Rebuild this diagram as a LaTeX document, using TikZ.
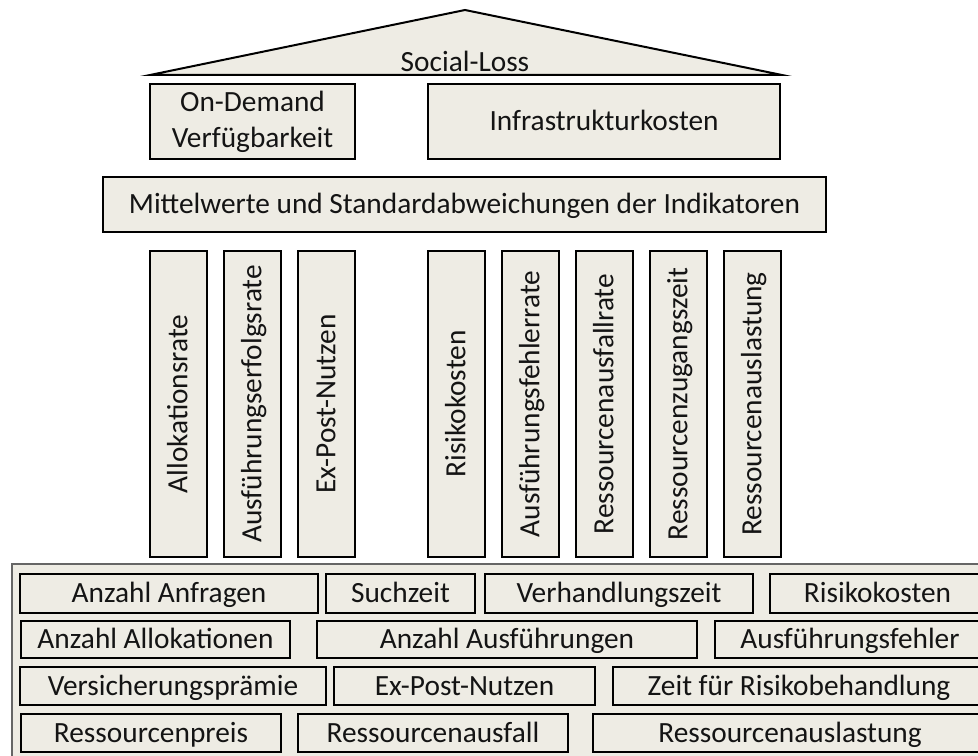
\documentclass[tikz,border=0pt]{standalone}
\usepackage{fontspec}
\setmainfont{Carlito}
\usepackage{tikz}

\definecolor{boxfill}{RGB}{238,236,228}
\definecolor{txtcol}{RGB}{20,20,20}

\begin{document}
\begin{tikzpicture}[x=0.75pt,y=0.75pt,yscale=-1,xscale=1,
  boxline/.style={draw=black,line width=1.5pt,fill=boxfill},
  lbl/.style={inner sep=0pt,text=txtcol,font=\fontsize{22pt}{27pt}\selectfont,text height=16pt,text depth=2pt},
  vlbl/.style={lbl,rotate=90}]
\useasboundingbox (0,0) rectangle (978,756);
\clip (0,0) rectangle (978,756);

%Shape: Roof
\draw [line width=1.5pt,line join=miter,fill=boxfill] (150,75) -- (465,10) -- (782,75) -- cycle ;
%Shape: Rectangle On-Demand
\draw [boxline] (150,84) rectangle (355,159) ;
%Shape: Rectangle Infrastruktur
\draw [boxline] (428,84) rectangle (780,159) ;
%Shape: Rectangle Mittelwerte
\draw [boxline] (103,177) rectangle (826,232) ;

%Shape: Pillars
\draw [boxline] (149.5,251) rectangle (206.5,557) ;
\draw [boxline] (223.5,251) rectangle (280.5,557) ;
\draw [boxline] (297.5,251) rectangle (354.5,557) ;
\draw [boxline] (427.5,251) rectangle (484.5,557) ;
\draw [boxline] (501.5,251) rectangle (558.5,557) ;
\draw [boxline] (575.5,251) rectangle (632.5,557) ;
\draw [boxline] (649.5,251) rectangle (706.5,557) ;
\draw [boxline] (723.5,251) rectangle (780.5,557) ;

%Shape: Base
\draw [draw=black!60,line width=1pt,fill=boxfill] (12,564) rectangle (1000,780) ;
%Base row 1
\draw [boxline] (20,574) rectangle (318,613) ;
\draw [boxline] (326,574) rectangle (475,613) ;
\draw [boxline] (485,574) rectangle (753,613) ;
\draw [boxline] (770,574) rectangle (985,613) ;
%Base row 2
\draw [boxline] (21,621) rectangle (290,658) ;
\draw [boxline] (317,621) rectangle (697,658) ;
\draw [boxline] (715,621) rectangle (985,658) ;
%Base row 3
\draw [boxline] (20,667) rectangle (326,705) ;
\draw [boxline] (334,667) rectangle (595,705) ;
\draw [boxline] (613,667) rectangle (985,705) ;
%Base row 4
\draw [boxline] (21,714) rectangle (281,752) ;
\draw [boxline] (298,714) rectangle (568,752) ;
\draw [boxline] (593,714) rectangle (987,752) ;

% Text Node
\draw (465,62) node [lbl] (loss) {Social-Loss};
% Text Node
\draw (252.5,148) node [inner sep=0pt,text=txtcol,font=\fontsize{22pt}{27pt}\selectfont,align=center,anchor=base] (ondemand) {On-Demand\\Verfügbarkeit};
% Text Node
\draw (604,121.5) node [lbl] (infra) {Infrastrukturkosten};
% Text Node
\draw (464.5,204.5) node [lbl] (mittel) {Mittelwerte und Standardabweichungen der Indikatoren};

% Text Node
\draw (178,404) node [vlbl] (allokrate) {Allokationsrate};
% Text Node
\draw (252,404) node [vlbl] (erfolgrate) {Ausführungserfolgsrate};
% Text Node
\draw (326,404) node [vlbl] (expost) {Ex-Post-Nutzen};
% Text Node
\draw (456,404) node [vlbl] (risiko) {Risikokosten};
% Text Node
\draw (530,404) node [vlbl] (fehlerrate) {Ausführungsfehlerrate};
% Text Node
\draw (604,404) node [vlbl] (ausfallrate) {Ressourcenausfallrate};
% Text Node
\draw (678,404) node [vlbl] (zugangszeit) {Ressourcenzugangszeit};
% Text Node
\draw (752,404) node [vlbl] (auslastung) {Ressourcenauslastung};

% Text Node
\draw (169,593.5) node [lbl] (anfragen) {Anzahl Anfragen};
% Text Node
\draw (400.5,593.5) node [lbl] (suchzeit) {Suchzeit};
% Text Node
\draw (619,593.5) node [lbl] (verhandlung) {Verhandlungszeit};
% Text Node
\draw (877.5,593.5) node [lbl] (risikob) {Risikokosten};
% Text Node
\draw (155.5,639.5) node [lbl] (allokationen) {Anzahl Allokationen};
% Text Node
\draw (507,639.5) node [lbl] (ausfuehrungen) {Anzahl Ausführungen};
% Text Node
\draw (850,639.5) node [lbl] (fehler) {Ausführungsfehler};
% Text Node
\draw (173,686) node [lbl] (praemie) {Versicherungsprämie};
% Text Node
\draw (464.5,686) node [lbl] (expostb) {Ex-Post-Nutzen};
% Text Node
\draw (799,686) node [lbl] (behandlung) {Zeit für Risikobehandlung};
% Text Node
\draw (151,733) node [lbl] (preis) {Ressourcenpreis};
% Text Node
\draw (433,733) node [lbl] (ausfall) {Ressourcenausfall};
% Text Node
\draw (790,733) node [lbl] (auslastungb) {Ressourcenauslastung};
\end{tikzpicture}
\end{document}
